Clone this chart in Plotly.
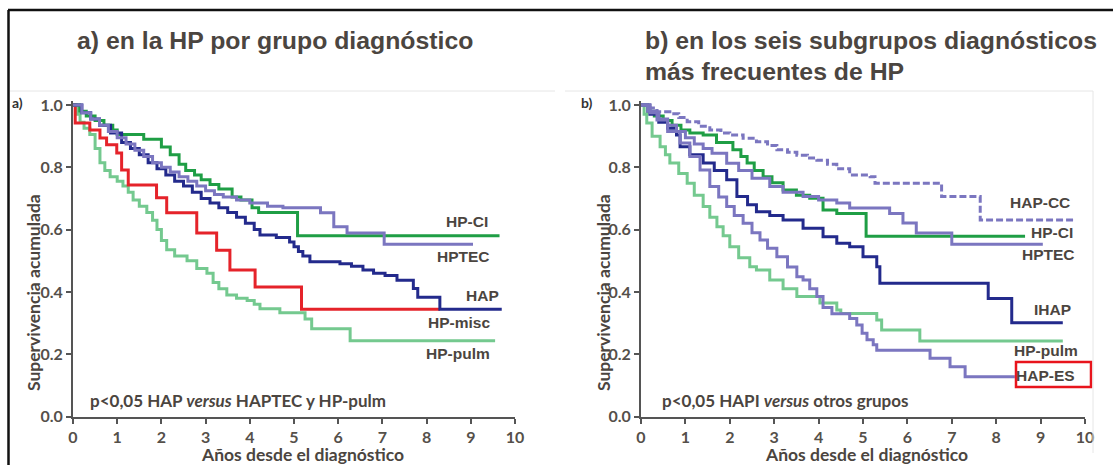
import plotly.graph_objects as go

W, H = 1113, 465

# ---------------- data: panel a ----------------
a_hpci_t = [0, 0.15, 0.3, 0.5, 0.7, 0.9, 1.0, 1.6, 2.0, 2.2, 2.4, 2.55, 2.75, 2.9, 3.1, 3.3, 3.6, 3.8, 4.05, 4.2, 5.08, 9.65]
a_hpci_s = [1.0, 0.98, 0.965, 0.95, 0.935, 0.92, 0.905, 0.89, 0.865, 0.84, 0.81, 0.79, 0.775, 0.76, 0.745, 0.73, 0.705, 0.695, 0.67, 0.655, 0.58, 0.58]

a_hptec_t = [0, 0.2, 0.4, 0.6, 0.8, 1.0, 1.2, 1.4, 1.6, 1.8, 2.0, 2.2, 2.4, 2.6, 2.8, 3.0, 3.2, 3.4, 3.7, 4.0, 4.4, 4.75, 5.6, 5.9, 6.2, 7.04, 9.05]
a_hptec_s = [1.0, 0.975, 0.955, 0.935, 0.915, 0.895, 0.875, 0.855, 0.835, 0.815, 0.8, 0.785, 0.77, 0.755, 0.74, 0.725, 0.713, 0.705, 0.695, 0.685, 0.675, 0.67, 0.654, 0.609, 0.589, 0.553, 0.553]

a_hap_t = [0, 0.2, 0.4, 0.6, 0.85, 1.1, 1.3, 1.5, 1.7, 1.9, 2.1, 2.3, 2.5, 2.7, 2.9, 3.1, 3.3, 3.5, 3.7, 3.9, 4.1, 4.23, 4.6, 4.9, 5.0, 5.1, 5.2, 5.36, 6.04, 6.3, 6.56, 6.8, 7.06, 7.33, 7.7, 7.8, 8.3, 9.7]
a_hap_s = [1.0, 0.975, 0.955, 0.935, 0.91, 0.88, 0.86, 0.84, 0.815, 0.795, 0.775, 0.755, 0.74, 0.72, 0.7, 0.685, 0.67, 0.655, 0.64, 0.62, 0.6, 0.583, 0.575, 0.56, 0.545, 0.53, 0.515, 0.497, 0.49, 0.482, 0.47, 0.46, 0.453, 0.437, 0.411, 0.383, 0.344, 0.344]

a_misc_t = [0, 0.05, 0.38, 0.61, 0.76, 0.99, 1.1, 1.25, 1.89, 2.12, 2.8, 3.25, 3.55, 4.12, 5.17, 8.3]
a_misc_s = [1.0, 0.942, 0.92, 0.894, 0.872, 0.846, 0.791, 0.743, 0.702, 0.654, 0.589, 0.534, 0.47, 0.416, 0.344, 0.344]

a_pulm_t = [0, 0.08, 0.16, 0.25, 0.38, 0.5, 0.61, 0.72, 0.84, 1.0, 1.13, 1.25, 1.36, 1.5, 1.67, 1.8, 1.9, 2.0, 2.12, 2.3, 2.58, 2.8, 3.03, 3.17, 3.3, 3.48, 3.7, 3.94, 4.1, 4.23, 4.68, 5.25, 5.4, 6.27, 9.55]
a_pulm_s = [1.0, 0.97, 0.945, 0.925, 0.905, 0.86, 0.815, 0.79, 0.77, 0.755, 0.74, 0.72, 0.695, 0.675, 0.655, 0.63, 0.6, 0.565, 0.535, 0.515, 0.5, 0.475, 0.46, 0.43, 0.41, 0.39, 0.38, 0.372, 0.36, 0.346, 0.333, 0.313, 0.282, 0.243, 0.243]

# ---------------- data: panel b ----------------
b_cc_t = [0, 0.2, 0.36, 0.65, 0.85, 1.04, 1.3, 1.55, 1.8, 2.0, 2.3, 2.6, 2.85, 3.06, 3.3, 3.51, 3.75, 3.96, 4.2, 4.41, 4.7, 5.16, 5.27, 6.77, 7.64, 9.77]
b_cc_s = [1.0, 0.99, 0.978, 0.972, 0.96, 0.946, 0.932, 0.92, 0.91, 0.904, 0.893, 0.882, 0.87, 0.856, 0.848, 0.839, 0.83, 0.823, 0.81, 0.795, 0.775, 0.77, 0.749, 0.706, 0.631, 0.631]

b_hpci_t = [0, 0.15, 0.3, 0.5, 0.7, 0.9, 1.1, 1.4, 1.7, 2.07, 2.25, 2.39, 2.55, 2.75, 2.95, 3.2, 3.5, 3.8, 4.1, 4.41, 5.07, 8.65]
b_hpci_s = [1.0, 0.98, 0.965, 0.95, 0.935, 0.92, 0.91, 0.904, 0.88, 0.856, 0.835, 0.814, 0.79, 0.77, 0.75, 0.727, 0.71, 0.701, 0.663, 0.652, 0.579, 0.579]

b_hptec_t = [0, 0.2, 0.4, 0.6, 0.8, 1.0, 1.2, 1.4, 1.6, 1.93, 2.2, 2.5, 2.9, 3.2, 3.65, 4.0, 4.41, 4.7, 5.6, 5.9, 6.2, 7.0, 9.05]
b_hptec_s = [1.0, 0.975, 0.955, 0.935, 0.915, 0.895, 0.875, 0.86, 0.845, 0.813, 0.79, 0.765, 0.738, 0.72, 0.706, 0.695, 0.685, 0.669, 0.652, 0.621, 0.589, 0.553, 0.553]

b_ihap_t = [0, 0.2, 0.4, 0.6, 0.8, 0.88, 1.1, 1.4, 1.65, 1.93, 2.16, 2.4, 2.6, 2.9, 3.2, 3.65, 4.1, 4.41, 4.7, 5.0, 5.31, 5.38, 7.82, 8.35, 9.5]
b_ihap_s = [1.0, 0.97, 0.945, 0.925, 0.904, 0.866, 0.84, 0.814, 0.79, 0.76, 0.706, 0.68, 0.657, 0.645, 0.631, 0.604, 0.577, 0.556, 0.545, 0.513, 0.481, 0.428, 0.379, 0.301, 0.301]

b_pulm_t = [0, 0.07, 0.13, 0.25, 0.43, 0.55, 0.65, 0.85, 1.04, 1.2, 1.4, 1.55, 1.71, 1.85, 2.0, 2.2, 2.45, 2.6, 2.9, 3.2, 3.51, 4.03, 4.41, 4.5, 5.31, 5.42, 6.28, 9.5]
b_pulm_s = [1.0, 0.97, 0.942, 0.9, 0.866, 0.84, 0.814, 0.78, 0.749, 0.71, 0.674, 0.64, 0.609, 0.58, 0.545, 0.51, 0.481, 0.47, 0.438, 0.41, 0.385, 0.364, 0.342, 0.331, 0.31, 0.278, 0.242, 0.242]

b_es_t = [0, 0.15, 0.36, 0.6, 0.88, 1.1, 1.33, 1.55, 1.75, 1.93, 2.1, 2.3, 2.5, 2.68, 2.85, 3.06, 3.3, 3.51, 3.65, 3.8, 3.96, 4.1, 4.3, 4.7, 4.86, 4.98, 5.09, 5.23, 5.31, 6.51, 6.96, 7.3, 8.42]
b_es_s = [1.0, 0.98, 0.952, 0.915, 0.878, 0.835, 0.791, 0.738, 0.705, 0.674, 0.645, 0.62, 0.59, 0.567, 0.54, 0.513, 0.48, 0.449, 0.438, 0.41, 0.385, 0.35, 0.33, 0.315, 0.294, 0.267, 0.246, 0.23, 0.213, 0.187, 0.16, 0.128, 0.128]

x_ticks = list(range(0, 11))
y_ticks = [0.0, 0.2, 0.4, 0.6, 0.8, 1.0]

# ---------------- styling ----------------
NAVY = "#232a8c"
PURPLE = "#7b76c0"
GREEN = "#1f9e45"
LGREEN = "#74c98f"
RED = "#e5232a"
TXT = "#4b4540"
AX = "#555555"
LW = 3

fig = go.Figure()

def add(t, s, color, xa, ya, dash="solid"):
    fig.add_trace(go.Scatter(x=t, y=s, mode="lines", line=dict(color=color, width=LW, shape="hv", dash=dash),
                             xaxis=xa, yaxis=ya, showlegend=False, hoverinfo="skip"))

add(a_pulm_t, a_pulm_s, LGREEN, "x", "y")
add(a_misc_t, a_misc_s, RED, "x", "y")
add(a_hpci_t, a_hpci_s, GREEN, "x", "y")
add(a_hap_t, a_hap_s, NAVY, "x", "y")
add(a_hptec_t, a_hptec_s, PURPLE, "x", "y")

add(b_pulm_t, b_pulm_s, LGREEN, "x2", "y2")
add(b_hpci_t, b_hpci_s, GREEN, "x2", "y2")
add(b_ihap_t, b_ihap_s, NAVY, "x2", "y2")
add(b_hptec_t, b_hptec_s, PURPLE, "x2", "y2")
add(b_es_t, b_es_s, PURPLE, "x2", "y2")
add(b_cc_t, b_cc_s, PURPLE, "x2", "y2", dash="7px,3px")

tickfont = dict(family="Lato", size=16, color="#55504a", weight="bold")
y_top_px = 105 - 0.012 * 311.5
ydom = [(H - 416.5) / H, (H - y_top_px) / H]

axcommon = dict(showgrid=False, zeroline=False, showline=True, linecolor=AX, linewidth=2,
                ticks="outside", ticklen=5, tickwidth=1.5, tickcolor=AX, tickfont=tickfont,
                automargin=False)

fig.update_layout(
    width=W, height=H, autosize=False, margin=dict(l=0, r=0, t=0, b=0, pad=0),
    paper_bgcolor="white", plot_bgcolor="white",
    xaxis=dict(domain=[73 / W, 515 / W], range=[0, 10], tickvals=x_ticks, anchor="y", **axcommon),
    yaxis=dict(domain=ydom, range=[0, 1.012], tickvals=y_ticks, tickformat=".1f", anchor="x", **axcommon),
    xaxis2=dict(domain=[641 / W, 1085 / W], range=[0, 10], tickvals=x_ticks, anchor="y2", **axcommon),
    yaxis2=dict(domain=ydom, range=[0, 1.012], tickvals=y_ticks, tickformat=".1f", anchor="x2", **axcommon),
)

def P(x, y):
    return x / W, 1 - y / H

def ann(text, x, y, size, family="Liberation Sans", color=TXT, xanchor="center", angle=0, weight="bold"):
    px, py = P(x, y)
    fig.add_annotation(x=px, y=py, xref="paper", yref="paper", text=text, showarrow=False,
                       xanchor=xanchor, yanchor="middle", textangle=angle,
                       font=dict(family=family, size=size, color=color, weight=weight))

# titles
ann("a) en la HP por grupo diagnóstico", 75, 40, 24.8, xanchor="left")
ann("b) en los seis subgrupos diagnósticos", 643, 40, 24.8, xanchor="left")
ann("más frecuentes de HP", 643, 72, 24.8, xanchor="left")

# panel letters
ann("a)", 10, 103, 14, family="Lato", color="#333", xanchor="left")
ann("b)", 579, 103, 14, family="Lato", color="#333", xanchor="left")

# axis titles
for cx in (33, 603):
    ann("Supervivencia acumulada", cx, 293, 17.5, family="Lato", angle=-90)
ann("Años desde el diagnóstico", 302, 454, 17.5, family="Lato")
ann("Años desde el diagnóstico", 866, 454, 17.5, family="Lato")

# p-values
ann("p<0,05 HAP <i>versus</i> HAPTEC y HP-pulm", 88, 400, 17, family="Lato", xanchor="left")
ann("p<0,05 HAPI <i>versus</i> otros grupos", 660, 400, 17, family="Lato", xanchor="left")

# curve labels panel a
LS = 15.5
ann("HP-CI", 490, 221, LS, xanchor="right")
ann("HPTEC", 492, 256, LS, xanchor="right")
ann("HAP", 501, 295, LS, xanchor="right")
ann("HP-misc", 492, 322, LS, xanchor="right")
ann("HP-pulm", 492, 353, LS, xanchor="right")

# curve labels panel b
ann("HAP-CC", 1072, 203, LS, xanchor="right")
ann("HP-CI", 1075, 232, LS, xanchor="right")
ann("HPTEC", 1077, 255, LS, xanchor="right")
ann("IHAP", 1073, 309, LS, xanchor="right")
ann("HP-pulm", 1080, 350, LS, xanchor="right")
ann("HAP-ES", 1077, 375, LS, xanchor="right")

def rect(x0, y0, x1, y1, color, width):
    a0, b0 = P(x0, y0)
    a1, b1 = P(x1, y1)
    fig.add_shape(type="rect", xref="paper", yref="paper", x0=a0, y0=b1, x1=a1, y1=b0,
                  line=dict(color=color, width=width), fillcolor="rgba(0,0,0,0)")

def line(x0, y0, x1, y1, color, width):
    a0, b0 = P(x0, y0)
    a1, b1 = P(x1, y1)
    fig.add_shape(type="line", xref="paper", yref="paper", x0=a0, y0=b0, x1=a1, y1=b1,
                  line=dict(color=color, width=width))

rect(1016, 362, 1091, 387, "#e8141c", 2.5)

# frame lines
line(8, 10, 1113, 10, "#111111", 2.5)
line(8.5, 10, 8.5, 465, "#111111", 2.5)
line(10, 91, 555, 91, "#e6e6e6", 1)
line(565, 91, 1093, 91, "#e6e6e6", 1)
line(1093, 91, 1093, 453, "#e6e6e6", 1)

post = ("document.body.style.margin='0';document.body.style.padding='0';"
        "document.body.style.overflow='hidden';"
        "Plotly.relayout('{plot_id}', {width: 1113, height: 465});")

fig.write_html("out.html", config={"responsive": False, "displayModeBar": False}, post_script=post)
